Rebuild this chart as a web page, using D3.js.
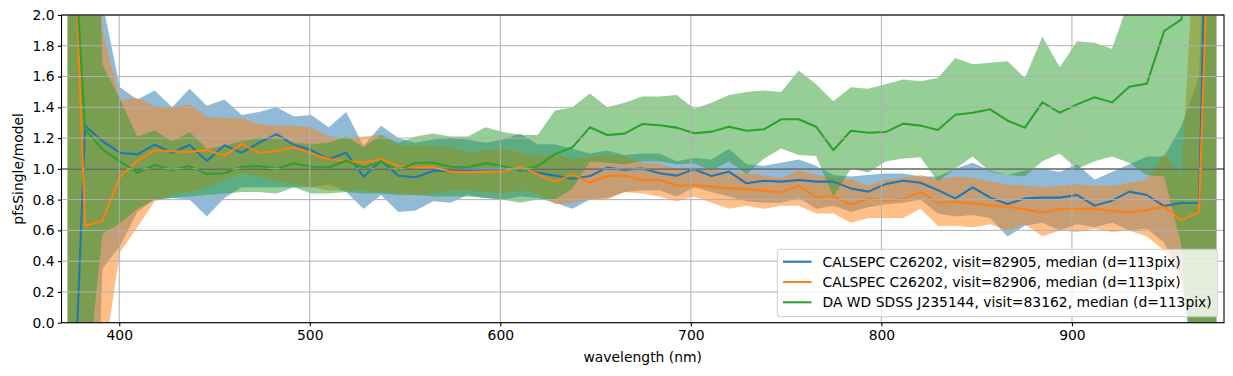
<!DOCTYPE html>
<html><head><meta charset="utf-8">
<script src="https://cdn.jsdelivr.net/npm/d3@7"></script>
<style>
html,body{margin:0;padding:0;background:#fff;}
svg{display:block;font-family:"DejaVu Sans",sans-serif;}
</style></head>
<body><svg id="chart" width="1233" height="376"></svg>
<script>
const wavelength = [372.9,382.1,391.2,400.4,409.5,418.6,427.8,436.9,446.0,455.2,464.3,473.4,482.6,491.7,500.8,510.0,519.1,528.2,537.4,546.5,555.6,564.8,573.9,583.0,592.2,601.3,610.4,619.6,628.7,637.8,647.0,656.1,665.2,674.4,683.5,692.6,701.8,710.9,720.0,729.2,738.3,747.4,756.6,765.7,774.8,784.0,793.1,802.2,811.4,820.5,829.6,838.8,847.9,857.1,866.2,875.3,884.5,893.6,902.7,911.9,921.0,930.1,939.3,948.4,957.5,966.7,975.8];

const blueMed = [-1.6,1.28,1.18,1.105,1.094,1.157,1.105,1.155,1.051,1.153,1.105,1.17,1.226,1.155,1.122,1.062,1.105,0.949,1.053,0.955,0.945,0.986,0.986,0.992,0.997,0.999,0.997,0.975,0.956,0.936,0.953,1.008,0.992,1.003,0.971,0.956,0.997,0.953,0.982,0.906,0.923,0.917,0.927,0.917,0.917,0.873,0.852,0.901,0.923,0.91,0.862,0.808,0.88,0.813,0.771,0.808,0.813,0.813,0.83,0.761,0.793,0.852,0.83,0.758,0.778,0.78,5.5];
const blueLo = [-5,-3,0.35,0.5,0.72,0.8,0.81,0.8,0.69,0.81,0.88,0.88,0.88,0.88,0.88,0.9,0.85,0.74,0.83,0.72,0.73,0.79,0.78,0.83,0.81,0.8,0.82,0.81,0.78,0.74,0.8,0.81,0.85,0.86,0.86,0.82,0.88,0.85,0.82,0.79,0.78,0.78,0.81,0.74,0.76,0.72,0.75,0.77,0.78,0.8,0.71,0.69,0.7,0.68,0.56,0.63,0.65,0.6,0.64,0.62,0.65,0.6,0.61,0.52,0.3,-0.5,-5];
const blueHi = [5,5,2.08,1.53,1.45,1.51,1.4,1.52,1.41,1.45,1.35,1.37,1.4,1.34,1.35,1.27,1.37,1.15,1.28,1.2,1.17,1.19,1.2,1.19,1.17,1.19,1.23,1.16,1.16,1.13,1.1,1.12,1.09,1.1,1.1,1.05,1.07,1.06,1.13,1.03,1.02,1.04,1.06,1.02,0.96,0.95,0.96,0.97,0.97,0.95,0.95,1.0,1.04,0.99,0.96,0.99,1.0,0.98,1.03,0.93,0.98,1.03,1.08,1.08,1.28,1.6,5];

const orangeMed = [3.7,0.628,0.663,0.949,1.053,1.12,1.114,1.109,1.122,1.086,1.161,1.105,1.116,1.14,1.1,1.062,1.053,1.04,1.064,1.018,1.01,1.012,0.982,0.977,0.979,0.982,1.014,0.966,0.917,0.964,0.91,0.953,0.956,0.927,0.927,0.89,0.895,0.884,0.873,0.869,0.858,0.847,0.891,0.815,0.823,0.769,0.808,0.793,0.802,0.852,0.78,0.784,0.776,0.761,0.754,0.737,0.715,0.739,0.739,0.741,0.726,0.717,0.732,0.754,0.667,0.719,4.1];
const orangeLo = [-5,-3,-0.3,0.46,0.62,0.79,0.83,0.85,0.88,0.93,0.97,0.95,0.92,0.9,0.88,0.86,0.86,0.86,0.85,0.84,0.83,0.84,0.86,0.86,0.85,0.84,0.86,0.84,0.77,0.78,0.8,0.8,0.85,0.84,0.82,0.79,0.82,0.78,0.74,0.76,0.74,0.76,0.76,0.71,0.71,0.65,0.68,0.68,0.68,0.74,0.63,0.63,0.62,0.64,0.6,0.64,0.56,0.6,0.59,0.61,0.59,0.6,0.56,0.47,0.26,-0.3,-5];
const orangeHi = [5,5,1.9,1.45,1.46,1.41,1.4,1.42,1.34,1.33,1.33,1.29,1.28,1.28,1.27,1.21,1.2,1.21,1.22,1.15,1.15,1.15,1.14,1.11,1.12,1.13,1.11,1.08,1.1,1.06,1.08,1.09,1.08,1.04,1.03,1.0,1.01,0.99,0.98,0.97,0.96,0.94,0.99,0.96,0.94,0.93,0.89,0.93,0.94,0.96,0.93,0.95,0.94,0.92,0.9,0.89,0.88,0.89,0.9,0.89,0.89,0.91,0.93,1.1,0.95,3,5];

const greenMed = [3.2,1.257,1.127,1.047,0.975,1.025,0.992,1.018,0.966,0.971,1.014,1.018,1.001,1.036,1.014,1.01,1.053,1.008,1.047,0.992,1.04,1.04,1.014,1.01,1.036,1.018,0.986,1.018,1.096,1.14,1.27,1.22,1.229,1.291,1.283,1.268,1.231,1.242,1.274,1.248,1.257,1.322,1.322,1.274,1.122,1.248,1.235,1.239,1.294,1.281,1.252,1.352,1.365,1.387,1.313,1.268,1.432,1.365,1.419,1.465,1.432,1.534,1.554,1.896,1.972,3.2,4.5];
const greenLo = [-5,-0.5,0.576,0.646,0.74,0.8,0.81,0.82,0.83,0.84,0.85,0.85,0.84,0.88,0.84,0.84,0.85,0.84,0.84,0.83,0.83,0.82,0.82,0.82,0.81,0.8,0.78,0.8,0.8,0.87,1.05,1.04,1.03,1.05,1.05,1.03,1.035,0.99,1.05,0.965,1.066,1.133,1.09,1.083,0.82,1.0,0.977,1.047,1.068,1.075,0.92,1.0,1.08,0.98,0.96,0.95,1.05,1.1,1.0,1.05,1.08,1.04,0.96,0.95,0.5,-1,-5];
const greenHi = [5,5,1.68,1.45,1.21,1.25,1.18,1.24,1.13,1.15,1.18,1.2,1.2,1.17,1.16,1.17,1.21,1.14,1.22,1.17,1.21,1.23,1.21,1.21,1.27,1.24,1.22,1.22,1.38,1.4,1.49,1.4,1.43,1.47,1.47,1.48,1.39,1.43,1.48,1.5,1.51,1.5,1.64,1.55,1.44,1.53,1.52,1.55,1.58,1.57,1.59,1.72,1.68,1.69,1.7,1.59,1.86,1.66,1.83,1.82,1.78,2.1,2.3,2.6,3,4,5];

const seriesLabels = ["CALSEPC C26202, visit=82905, median (d=113pix)","CALSPEC C26202, visit=82906, median (d=113pix)","DA WD SDSS J235144, visit=83162, median (d=113pix)"];
const seriesColors = ["#1f77b4","#ff7f0e","#2ca02c"];
const xTicks = [400,500,600,700,800,900];
const yTicks = [0.0,0.2,0.4,0.6,0.8,1.0,1.2,1.4,1.6,1.8,2.0];
const xDomain = [369.7,979.8];
const yDomain = [0,2];

const svg = d3.select("#chart");
const L = 61.5, R = 1224, T = 15, B = 322.7;
const x = d3.scaleLinear().domain(xDomain).range([L,R]);
const y = d3.scaleLinear().domain(yDomain).range([B,T]);

svg.append("defs").append("clipPath").attr("id","clip")
  .append("rect").attr("x",L).attr("y",T).attr("width",R-L).attr("height",B-T);

const series = [
  {med:blueMed, lo:blueLo, hi:blueHi},
  {med:orangeMed, lo:orangeLo, hi:orangeHi},
  {med:greenMed, lo:greenLo, hi:greenHi}
];

const plot = svg.append("g").attr("clip-path","url(#clip)");
series.forEach((s,k)=>{
  const area = d3.area().x((d,i)=>x(wavelength[i])).y0((d,i)=>y(s.lo[i])).y1((d,i)=>y(s.hi[i]));
  plot.append("path").attr("d",area(wavelength)).attr("fill",seriesColors[k]).attr("fill-opacity",0.5);
});

// grid
const grid = svg.append("g");
xTicks.forEach(t=>grid.append("line").attr("x1",x(t)).attr("x2",x(t)).attr("y1",T).attr("y2",B).attr("stroke","#b0b0b0").attr("stroke-width",1));
yTicks.forEach(t=>grid.append("line").attr("x1",L).attr("x2",R).attr("y1",y(t)).attr("y2",y(t)).attr("stroke","#b0b0b0").attr("stroke-width",1));

// axhline at 1
plot.append("line").attr("x1",L).attr("x2",R).attr("y1",y(1)).attr("y2",y(1)).attr("stroke","#000").attr("stroke-width",1.1);

series.forEach((s,k)=>{
  const line = d3.line().x((d,i)=>x(wavelength[i])).y((d,i)=>y(s.med[i]));
  plot.append("path").attr("d",line(wavelength)).attr("fill","none").attr("stroke",seriesColors[k]).attr("stroke-width",2.05).attr("stroke-linejoin","round");
});

// axes
const xAxis = d3.axisBottom(x).tickValues(xTicks).tickSize(3.5).tickPadding(3.5).tickFormat(d3.format("d"));
const yAxis = d3.axisLeft(y).tickValues(yTicks).tickSize(3.5).tickPadding(3.5).tickFormat(d3.format(".1f"));
const gx = svg.append("g").attr("transform",`translate(0,${B})`).call(xAxis);
const gy = svg.append("g").attr("transform",`translate(${L},0)`).call(yAxis);
[gx,gy].forEach(g=>{
  g.select(".domain").remove();
  g.selectAll(".tick line").attr("stroke","#000").attr("stroke-width",1.1);
  g.selectAll(".tick text").attr("fill","#000").style("font-family","DejaVu Sans").style("font-size","13.9px");
});
svg.append("rect").attr("x",L).attr("y",T).attr("width",R-L).attr("height",B-T).attr("fill","none").attr("stroke","#000").attr("stroke-width",1.1);

svg.append("text").attr("x",(L+R)/2).attr("y",362).attr("text-anchor","middle").style("font-size","13.9px").text("wavelength (nm)");
svg.append("text").attr("transform",`translate(23,${(T+B)/2}) rotate(-90)`).attr("text-anchor","middle").style("font-size","13.9px").text("pfsSingle/model");

// legend
const lg = svg.append("g");
lg.append("rect").attr("x",777.3).attr("y",249.3).attr("width",440).attr("height",67.4).attr("rx",2.8)
  .attr("fill","#fff").attr("fill-opacity",0.8).attr("stroke","#cccccc").attr("stroke-width",1);
seriesLabels.forEach((lab,k)=>{
  const cy = 261.7 + k*20.3;
  lg.append("line").attr("x1",783).attr("x2",811.5).attr("y1",cy).attr("y2",cy).attr("stroke",seriesColors[k]).attr("stroke-width",2.05);
  lg.append("text").attr("x",822.5).attr("y",cy).attr("dy","0.36em").style("font-size","13.9px").text(lab);
});
</script></body></html>
